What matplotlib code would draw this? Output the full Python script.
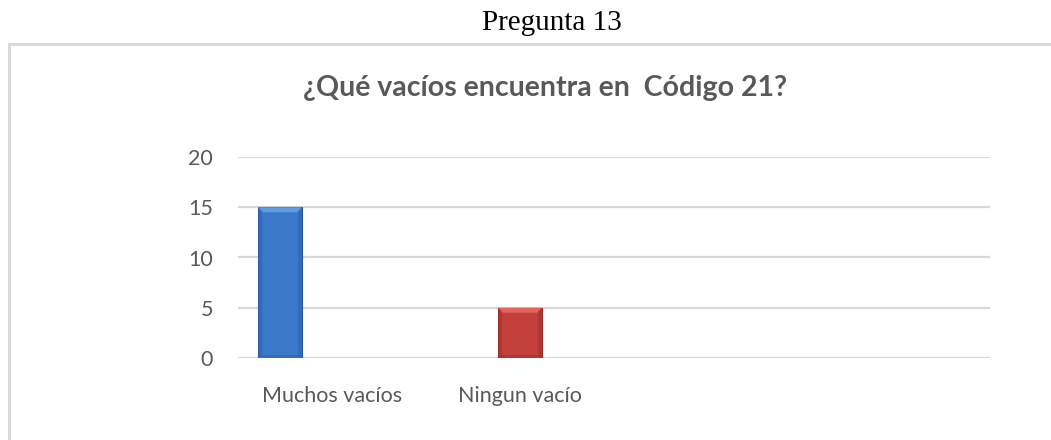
import matplotlib
matplotlib.use("Agg")
import matplotlib.pyplot as plt
import numpy as np
from matplotlib.patches import Polygon, Rectangle

categories = ["Muchos vacíos", "Ningun vacío"]
values = [15, 5]
yticks = [0, 5, 10, 15, 20]
chart_title = "¿Qué vacíos encuentra en  Código 21?"
page_title = "Pregunta 13"

W, H, DPI = 1051, 440, 100
fig = plt.figure(figsize=(W / DPI, H / DPI), dpi=DPI)
fig.patch.set_facecolor("white")

# outer chart frame
frame = Rectangle((9 / W, -0.1), 1.2, (H - 44) / H + 0.1, transform=fig.transFigure,
                  fill=False, edgecolor="#d9d9d9", linewidth=2.2)
fig.patches.append(frame)

fig.text(552 / W, 1 - 23 / H, page_title, ha="center", va="center",
         fontsize=21, family="Liberation Serif", color="black")
fig.text(545 / W, 1 - 88 / H, chart_title, ha="center", va="center",
         fontsize=20.5, family="Lato", fontweight="bold", color="#595959")

ax = fig.add_axes([238 / W, 82 / H, (990 - 238) / W, (358 - 157) / H])
x = np.arange(len(categories))
ax.set_xlim(-0.175, 2.958)
ax.set_ylim(0, 20)

base_cols = ["#3b78c9", "#c3413d"]
edge_cols = ["#27579c", "#922a27"]
top_cols = ["#5c9de6", "#e5625d"]
side_cols = ["#2f66b0", "#a8322f"]

bw = 0.183
bars = ax.bar(x, values, width=bw, color=base_cols, edgecolor=edge_cols, linewidth=0.8, zorder=3)

# bevel effect
fig.canvas.draw()
inv = ax.transData.inverted()
p0 = inv.transform((0, 0))
p1 = inv.transform((5, 5))
bdx, bdy = p1 - p0
for b, tc, sc in zip(bars, top_cols, side_cols):
    x0, w, h = b.get_x(), b.get_width(), b.get_height()
    ax.add_patch(Polygon([[x0, h], [x0 + w, h], [x0 + w - bdx, h - bdy], [x0 + bdx, h - bdy]],
                         closed=True, facecolor=tc, edgecolor="none", zorder=4))
    ax.add_patch(Polygon([[x0, 0], [x0 + bdx * 0.8, 0], [x0 + bdx * 0.8, h - bdy], [x0, h]],
                         closed=True, facecolor=sc, edgecolor="none", zorder=4, alpha=0.7))
    ax.add_patch(Polygon([[x0 + w, 0], [x0 + w - bdx * 0.8, 0], [x0 + w - bdx * 0.8, h - bdy], [x0 + w, h]],
                         closed=True, facecolor=sc, edgecolor="none", zorder=4, alpha=0.7))
    ax.add_patch(Polygon([[x0, 0], [x0 + w, 0], [x0 + w, bdy * 0.6], [x0, bdy * 0.6]],
                         closed=True, facecolor=sc, edgecolor="none", zorder=4, alpha=0.6))

ax.set_yticks(yticks)
ax.yaxis.grid(True, color="#d9d9d9", linewidth=1.6, zorder=0)
ax.set_axisbelow(True)
for s in ["top", "right", "left", "bottom"]:
    ax.spines[s].set_visible(False)
ax.tick_params(axis="both", length=0, labelsize=15.5, labelcolor="#595959")
ax.tick_params(axis="y", pad=18)
ax.tick_params(axis="x", pad=20)

label_offsets = [0.217, 0.0]
ax.set_xticks([xi + o for xi, o in zip(x, label_offsets)])
ax.set_xticklabels(categories)
for lab in ax.get_xticklabels() + ax.get_yticklabels():
    lab.set_family("Lato")

fig.savefig("out.png", dpi=DPI, facecolor="white")
